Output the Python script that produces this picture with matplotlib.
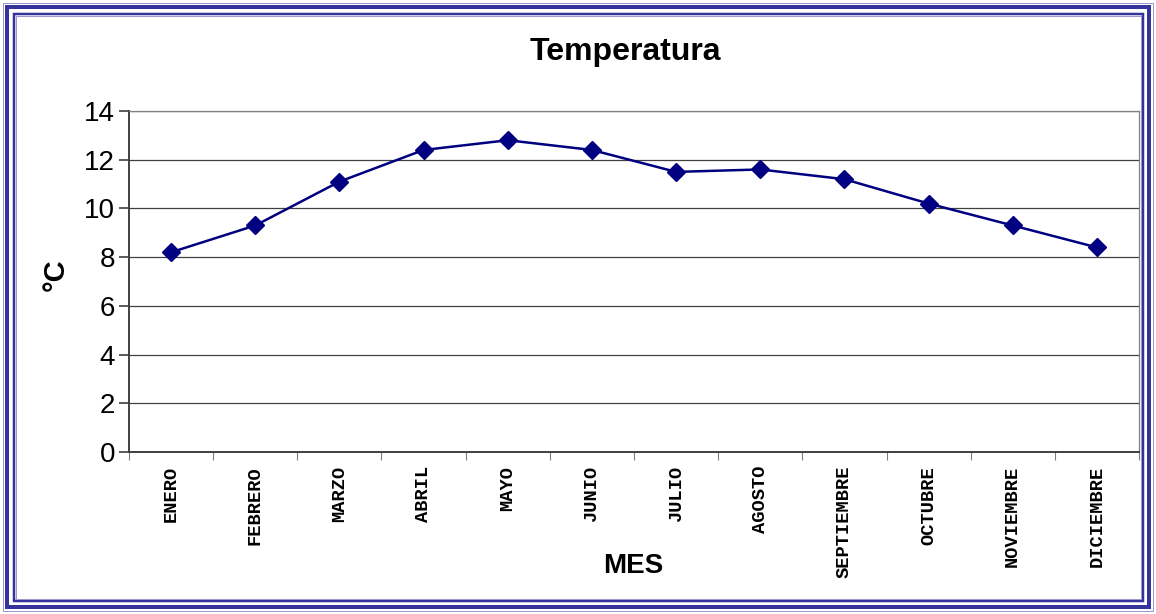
import matplotlib
matplotlib.use('Agg')
import matplotlib.pyplot as plt
from matplotlib.patches import Rectangle

meses = ["ENERO", "FEBRERO", "MARZO", "ABRIL", "MAYO", "JUNIO", "JULIO",
         "AGOSTO", "SEPTIEMBRE", "OCTUBRE", "NOVIEMBRE", "DICIEMBRE"]
temperatura = [8.2, 9.3, 11.1, 12.4, 12.8, 12.4, 11.5, 11.6, 11.2, 10.2, 9.3, 8.4]
yticks = [0, 2, 4, 6, 8, 10, 12, 14]

W, H = 1156, 614
plt.rcParams['font.family'] = ['Liberation Sans', 'DejaVu Sans']

fig = plt.figure(figsize=(W / 100.0, H / 100.0), dpi=100)
ax = fig.add_axes([129 / W, 1 - 452 / H, (1139 - 129) / W, (452 - 111) / H])

x = range(len(meses))
ax.plot(x, temperatura, color='#000080', lw=1.8, marker='D', ms=9.5,
        markerfacecolor='#000080', markeredgecolor='#000080', zorder=3)

ax.set_xlim(-0.5, len(meses) - 0.5)
ax.set_ylim(0, 14)
ax.set_yticks(yticks)
ax.set_yticklabels([str(v) for v in yticks], fontsize=20)
ax.yaxis.grid(True, color='#404040', lw=0.9)
ax.set_axisbelow(True)

# category boundaries carry the tick marks, labels sit on the centres
ax.set_xticks([i - 0.5 for i in range(len(meses) + 1)])
ax.set_xticklabels([])
ax.set_xticks(list(x), minor=True)
ax.set_xticklabels(meses, minor=True, rotation=90, va='top', ha='center',
                   fontsize=13.5, fontweight='bold', family='Liberation Mono')
ax.tick_params(axis='x', which='major', length=6, color='#808080', width=0.8)
ax.tick_params(axis='x', which='minor', length=0, pad=10)
ax.tick_params(axis='y', length=7, color='#404040', width=1.2, pad=3)

for s in ['top', 'right']:
    ax.spines[s].set_color('#808080')
    ax.spines[s].set_linewidth(0.9)
for s in ['left', 'bottom']:
    ax.spines[s].set_color('#404040')
    ax.spines[s].set_linewidth(1.4)

fig.text(625 / W, 1 - 52 / H, "Temperatura", ha='center', va='center',
         fontsize=23, fontweight='bold')
fig.text(56 / W, 1 - 275 / H, "°C", ha='center', va='center', rotation=90,
         fontsize=21, fontweight='bold')
fig.text(633 / W, 1 - 566 / H, "MES", ha='center', va='center',
         fontsize=20, fontweight='bold')

# double blue frame around the whole chart
def frame(off, lw_px, color):
    fig.patches.append(Rectangle((off / W, off / H), 1 - 2 * off / W, 1 - 2 * off / H,
                                 transform=fig.transFigure, fill=False,
                                 edgecolor=color, lw=lw_px * 0.72))

frame(3, 1, '#9999cc')
frame(7, 4, '#333399')
frame(13.5, 2.5, '#333399')
frame(15.5, 1, '#9999cc')

fig.savefig("out.png", dpi=100)
